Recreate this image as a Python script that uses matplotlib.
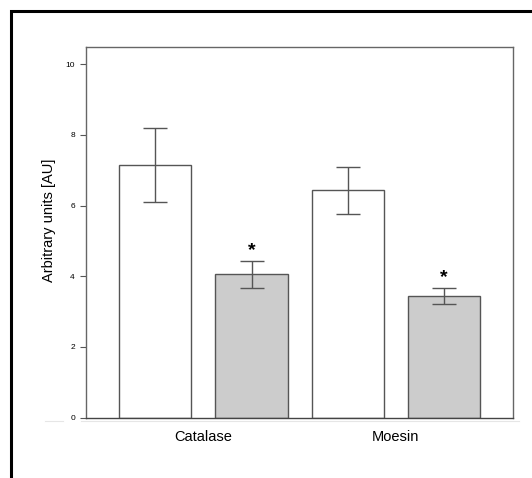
import numpy as np
import matplotlib.pyplot as plt
from matplotlib.lines import Line2D
from matplotlib.patches import Rectangle

plt.rcParams['font.family'] = ['Liberation Sans', 'DejaVu Sans']

groups = ['Catalase', 'Moesin']
control = [7.14, 6.43]
control_err = [1.05, 0.66]
treated = [4.06, 3.45]
treated_err = [0.38, 0.225]
significant = [True, True]
yticks = [0, 2, 4, 6, 8, 10]

W, H = 532, 478
fig = plt.figure(figsize=(W / 100, H / 100), dpi=100)
ax = fig.add_axes([86 / W, 1 - 417.5 / H, (513.3 - 86) / W, (417.5 - 46.7) / H])

edge = '#555555'
pos_c = np.arange(len(groups)) * 2
pos_t = pos_c + 1
width = 0.75
cap = 8.6

ax.bar(pos_c, control, width, color='white', edgecolor=edge, linewidth=1.0, zorder=2)
ax.bar(pos_t, treated, width, color='#cccccc', edgecolor=edge, linewidth=1.0, zorder=2)
ax.errorbar(pos_c, control, yerr=control_err, fmt='none', ecolor=edge,
            elinewidth=1.0, capsize=cap, capthick=1.0, zorder=3)
ax.errorbar(pos_t, treated, yerr=treated_err, fmt='none', ecolor=edge,
            elinewidth=1.0, capsize=cap, capthick=1.0, zorder=3)

# significance stars
for x, v, e, s in zip(pos_t, treated, treated_err, significant):
    if s:
        ax.annotate('*', (x, v + e), xytext=(0, 1), textcoords='offset points',
                    ha='center', va='bottom', fontsize=14, fontweight='bold')

ax.set_xlim(-0.72, 3.72)
ax.set_ylim(0, 10.5)
ax.set_yticks(yticks)
ax.set_yticklabels([str(t) for t in yticks], fontsize=6)
ax.set_xticks((pos_c + pos_t) / 2)
ax.set_xticklabels(groups, fontsize=10.5)
ax.tick_params(axis='x', length=0, pad=9)
ax.tick_params(axis='y', length=4, width=0.8, color=edge, pad=4)
ax.set_ylabel('Arbitrary units [AU]', fontsize=10.5)
ax.yaxis.set_label_coords(-0.07, 0.533)

for sp in ax.spines.values():
    sp.set_color('#666666')
    sp.set_linewidth(1.0)
ax.spines['bottom'].set_color('#444444')

# faint baseline under the axis
fig.add_artist(Line2D([45 / W, 63 / W], [1 - 421 / H] * 2, color='#e6e6e6', lw=0.8))
fig.add_artist(Line2D([81 / W, 519 / W], [1 - 421 / H] * 2, color='#e6e6e6', lw=0.8))

# black outer frame, clipped at right and bottom
fig.add_artist(Rectangle((10.7 / W, -0.1), 1.2, 1.1 - 11.5 / H, fill=False,
                         edgecolor='black', linewidth=2.2, transform=fig.transFigure))

fig.savefig('out.png', dpi=100)
